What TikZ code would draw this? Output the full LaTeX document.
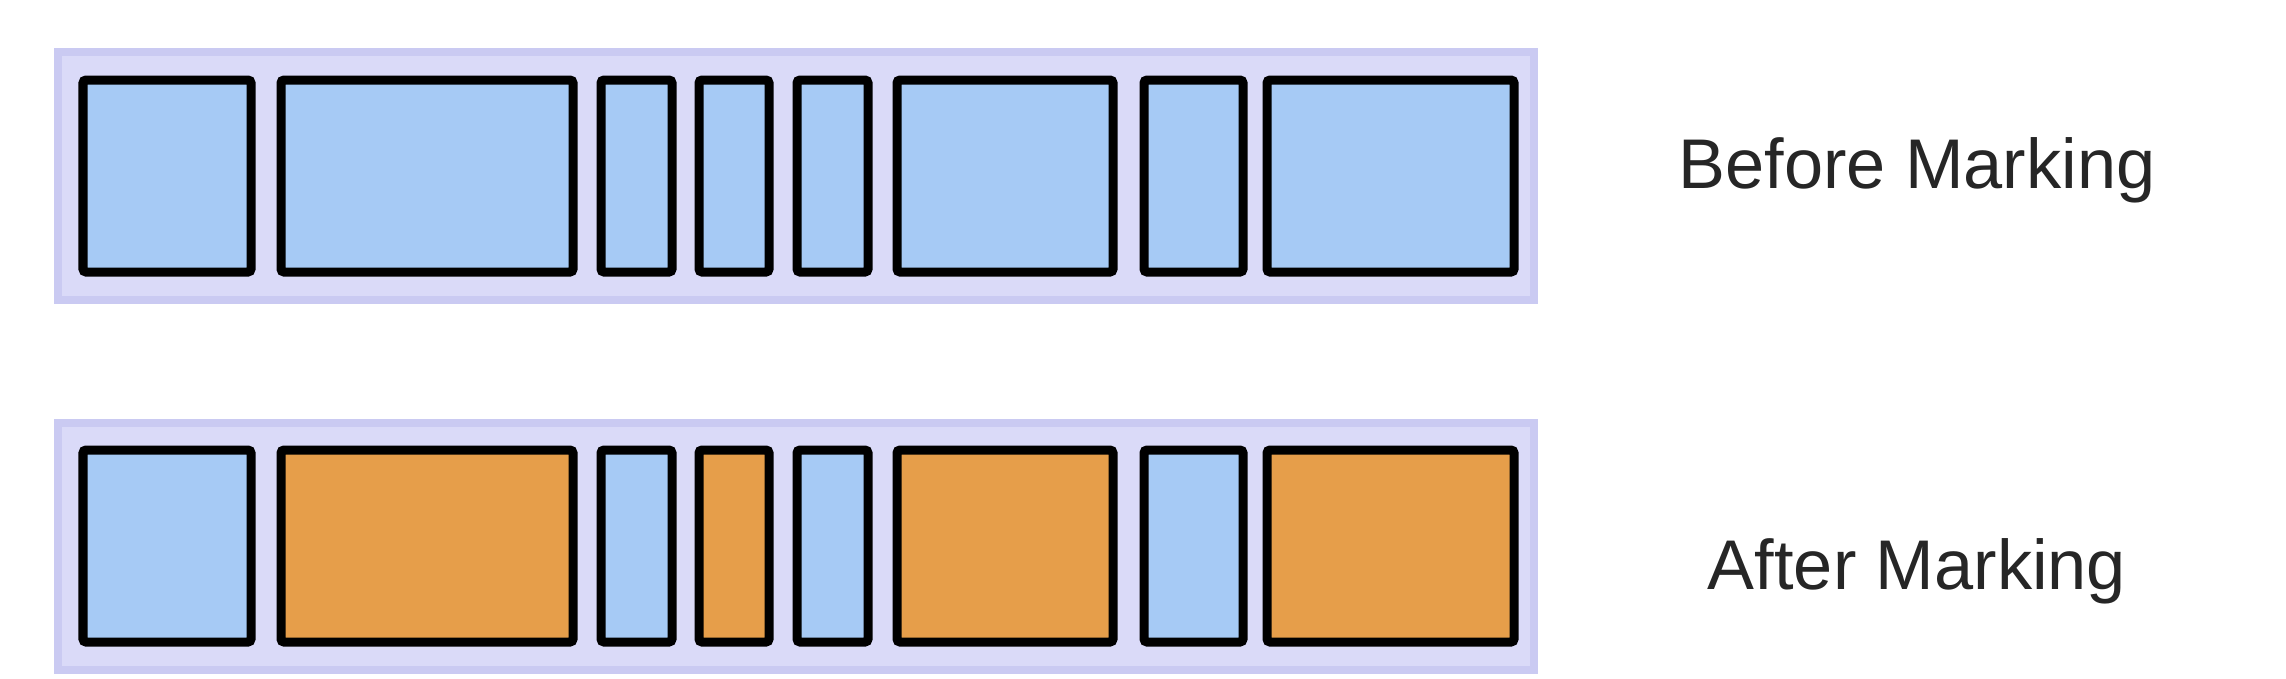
\documentclass[tikz,border=0pt]{standalone}
\usepackage{fontspec}
\setmainfont{Liberation Sans}
\usepackage{tikz}
\definecolor{bandfill}{HTML}{DADAF8}
\definecolor{bandrim}{HTML}{CACAF2}
\definecolor{cellblue}{HTML}{A6CAF5}
\definecolor{cellorange}{HTML}{E69E4A}
\tikzset{
	bandstyle/.style={fill=bandfill, draw=bandrim, line width=0.8mm},
	cellstyle/.style={draw=black, line width=0.9mm, rounded corners=0.3mm},
	labelstyle/.style={font=\fontsize{20}{24}\selectfont, anchor=base, text=black!85}
}

\begin{document}
\begin{tikzpicture}[x=0.01cm, y=-0.01cm]
			%%%%% START %%%%%
			\useasboundingbox (0, 0) rectangle (2286, 678);
			
			% before marking
			\draw[bandstyle] (58, 52) rectangle (1534, 300);
			\foreach \l/\r in {83/251, 281/573, 601/672, 699/769, 797/868, 897/1113, 1144/1243, 1267/1514}
				\draw[cellstyle, fill=cellblue] (\l, 80) rectangle (\r, 272);
			\node[labelstyle] (before) at (1917, 188) {Before Marking};
			
			% after marking
			\draw[bandstyle] (58, 423) rectangle (1534, 670);
			\foreach \l/\r/\c in {83/251/cellblue, 281/573/cellorange, 601/672/cellblue, 699/769/cellorange,
				797/868/cellblue, 897/1113/cellorange, 1144/1243/cellblue, 1267/1514/cellorange}
				\draw[cellstyle, fill=\c] (\l, 450) rectangle (\r, 642);
			\node[labelstyle] (after) at (1917, 589) {After Marking};
			
			%%%%% END %%%%%
\end{tikzpicture}
\end{document}
